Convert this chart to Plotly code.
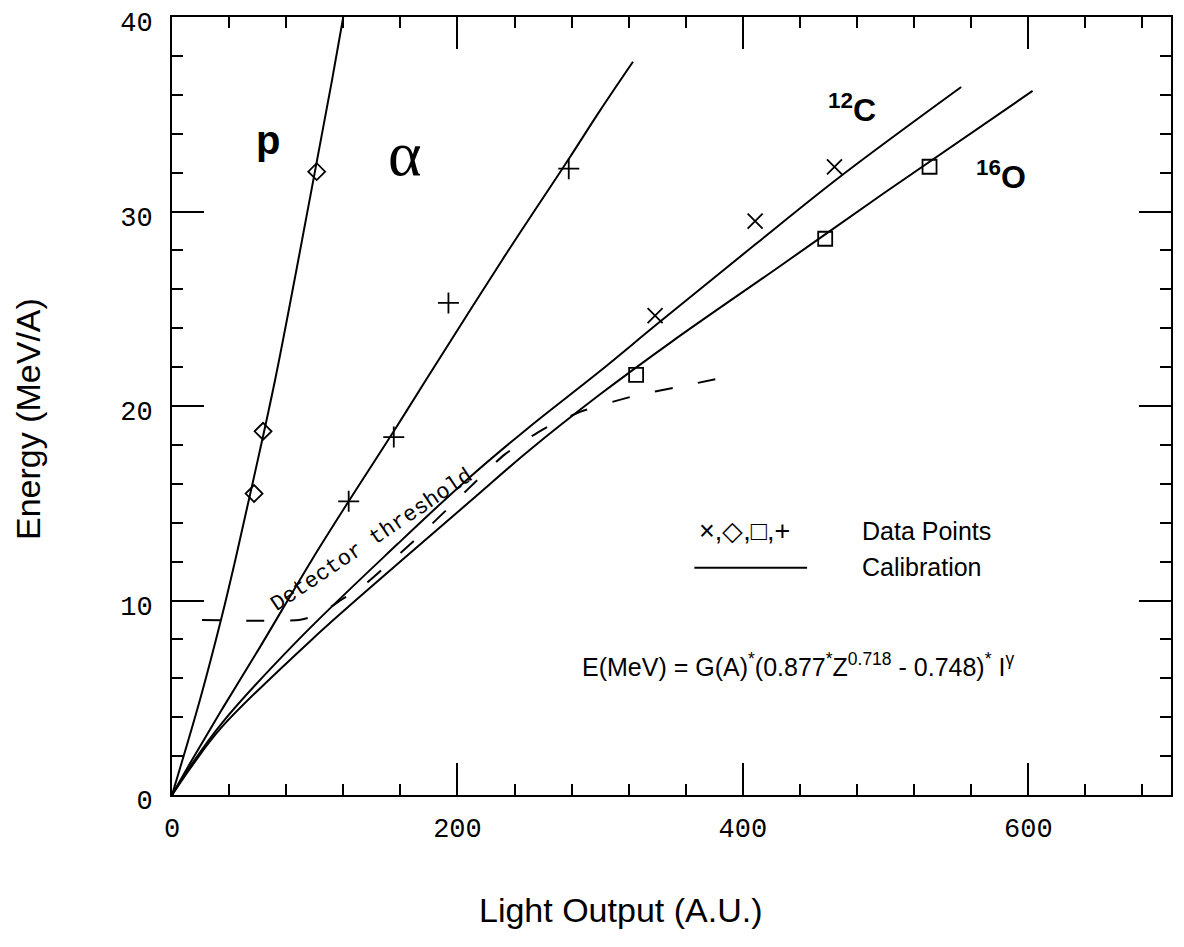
import plotly.graph_objects as go

# ---- data ----
p_curve_x = [0, 20, 35, 44.4, 57, 72.4, 96.7, 112, 120]
p_curve_y = [0, 5.0, 9.2, 12.1, 16.2, 21.4, 30.7, 36.7, 40]
p_pts_x = [57.5, 63.8, 101.4]
p_pts_y = [15.5, 18.7, 32.05]

a_curve_x = [0, 14, 35, 60.8, 98.1, 123.8, 155.4, 177.6, 232.2, 278, 300, 323]
a_curve_y = [0, 1.8, 4.4, 7.5, 12.1, 15.1, 18.7, 21.3, 27.6, 32.7, 35.2, 37.7]
a_pts_x = [123.8, 155.4, 193.7, 278]
a_pts_y = [15.1, 18.4, 25.3, 32.2]

c_curve_x = [0, 14, 35, 88.8, 158, 206.5, 250, 300, 339.7, 408.6, 468.3, 553]
c_curve_y = [0, 1.6, 3.7, 8.0, 12.9, 16.2, 18.9, 21.8, 24.2, 28.3, 31.8, 36.4]
c_pts_x = [338.5, 408.6, 464.2]
c_pts_y = [24.65, 29.5, 32.3]

o_curve_x = [0, 14, 35, 98.1, 160, 208.9, 250, 300, 350, 426.2, 500, 603]
o_curve_y = [0, 1.5, 3.5, 8.0, 12.0, 15.1, 17.7, 20.6, 23.3, 27.2, 31.0, 36.2]
o_pts_x = [325.2, 457.7, 530.8]
o_pts_y = [21.6, 28.6, 32.3]

thr_x = [21, 89, 103, 119, 133, 173, 207, 233, 260, 286, 323, 356, 389]
thr_y = [9.0, 9.0, 9.3, 10.05, 10.7, 13.3, 15.7, 17.5, 18.8, 19.7, 20.5, 21.0, 21.5]

x_ticks = [0, 200, 400, 600]
y_ticks = [0, 10, 20, 30, 40]

BLACK = "black"
fig = go.Figure()

for cx, cy in [(p_curve_x, p_curve_y), (a_curve_x, a_curve_y),
               (c_curve_x, c_curve_y), (o_curve_x, o_curve_y)]:
    fig.add_trace(go.Scatter(x=cx, y=cy, mode="lines",
                             line=dict(color=BLACK, width=2, shape="spline", smoothing=1.0),
                             showlegend=False, hoverinfo="skip"))

fig.add_trace(go.Scatter(x=thr_x, y=thr_y, mode="lines",
                         line=dict(color=BLACK, width=2, dash="18px,26px", shape="spline", smoothing=0.6),
                         showlegend=False, hoverinfo="skip"))

for px_, py_, sym, sz in [(p_pts_x, p_pts_y, "diamond-open", 13),
                          (a_pts_x, a_pts_y, "cross-thin-open", 15),
                          (c_pts_x, c_pts_y, "x-thin-open", 15),
                          (o_pts_x, o_pts_y, "square-open", 14)]:
    fig.add_trace(go.Scatter(x=px_, y=py_, mode="markers",
                             marker=dict(symbol=sym, size=sz, color=BLACK,
                                         line=dict(color=BLACK, width=1.8)),
                             showlegend=False, hoverinfo="skip"))

SANS = "Liberation Sans, Arial, sans-serif"
MONO = "Liberation Mono, Courier New, monospace"

ann = [
    dict(x=67, y=33.7, text="<b>p</b>", font=dict(family=SANS, size=40)),
    dict(x=163, y=33.0, text="α", font=dict(family="Liberation Serif, serif", size=64)),
    dict(x=476.8, y=35.3, text="<b><sup>12</sup>C</b>", font=dict(family=SANS, size=32)),
    dict(x=581, y=31.9, text="<b><sup>16</sup>O</b>", font=dict(family=SANS, size=32)),
    dict(x=140.2, y=13.1, text="Detector threshold", textangle=-34,
         font=dict(family=MONO, size=22)),
    dict(x=368, y=13.57, text="×,◇,□,+", xanchor="left", font=dict(family=SANS, size=27)),
    dict(x=482.2, y=13.57, text="Data Points", xanchor="left", font=dict(family=SANS, size=25)),
    dict(x=482.2, y=11.7, text="Calibration", xanchor="left", font=dict(family=SANS, size=25)),
    dict(x=286, y=6.7, xanchor="left",
         text="E(MeV) = G(A)<sup>*</sup>(0.877<sup>*</sup>Z<sup>0.718</sup> - 0.748)<sup>*</sup> I<sup>γ</sup>",
         font=dict(family=SANS, size=25)),
    dict(xref="paper", yref="paper", x=(620 - 172) / 999, y=-(910 - 795) / 778,
         xanchor="center", yanchor="middle",
         text="Light Output (A.U.)", font=dict(family=SANS, size=34)),
    dict(xref="paper", yref="paper", x=-(172 - 28) / 999, y=(795 - 419) / 778,
         xanchor="center", yanchor="middle",
         text="Energy (MeV/A)", textangle=-90, font=dict(family=SANS, size=34)),
]
for a in ann:
    a.setdefault("xref", "x")
    a.setdefault("yref", "y")
    a["showarrow"] = False
    a["font"]["color"] = BLACK
    fig.add_annotation(**a)

fig.add_shape(type="line", x0=366, x1=445, y0=11.68, y1=11.68,
              line=dict(color=BLACK, width=2), xref="x", yref="y")

axis_common = dict(showline=True, linecolor=BLACK, linewidth=2, mirror="allticks",
                   ticks="inside", ticklen=32, tickwidth=2, tickcolor=BLACK,
                   showgrid=False, zeroline=False, automargin=False,
                   ticklabeloverflow="allow")

fig.update_xaxes(range=[0, 700], tickvals=x_ticks, ticktext=[str(v) for v in x_ticks],
                 tickfont=dict(family=MONO, size=27, color=BLACK), ticklabelstandoff=8,
                 minor=dict(dtick=40, tick0=0, ticks="inside", ticklen=11, tickwidth=2,
                            tickcolor=BLACK, showgrid=False),
                 **axis_common)
fig.update_yaxes(range=[0, 40], tickvals=y_ticks, ticktext=[str(v) for v in y_ticks],
                 tickfont=dict(family=MONO, size=27, color=BLACK), ticklabelstandoff=12,
                 ticklabelshift=5,
                 minor=dict(dtick=2, tick0=0, ticks="inside", ticklen=11, tickwidth=2,
                            tickcolor=BLACK, showgrid=False),
                 **axis_common)

# page body has an 8px margin: figure spans 8..1184 x 8..947
fig.update_layout(width=1176, height=939, autosize=False,
                  margin=dict(l=164, r=13, t=9, b=152),
                  paper_bgcolor="white", plot_bgcolor="white", showlegend=False)

fig.write_html("out.html")
